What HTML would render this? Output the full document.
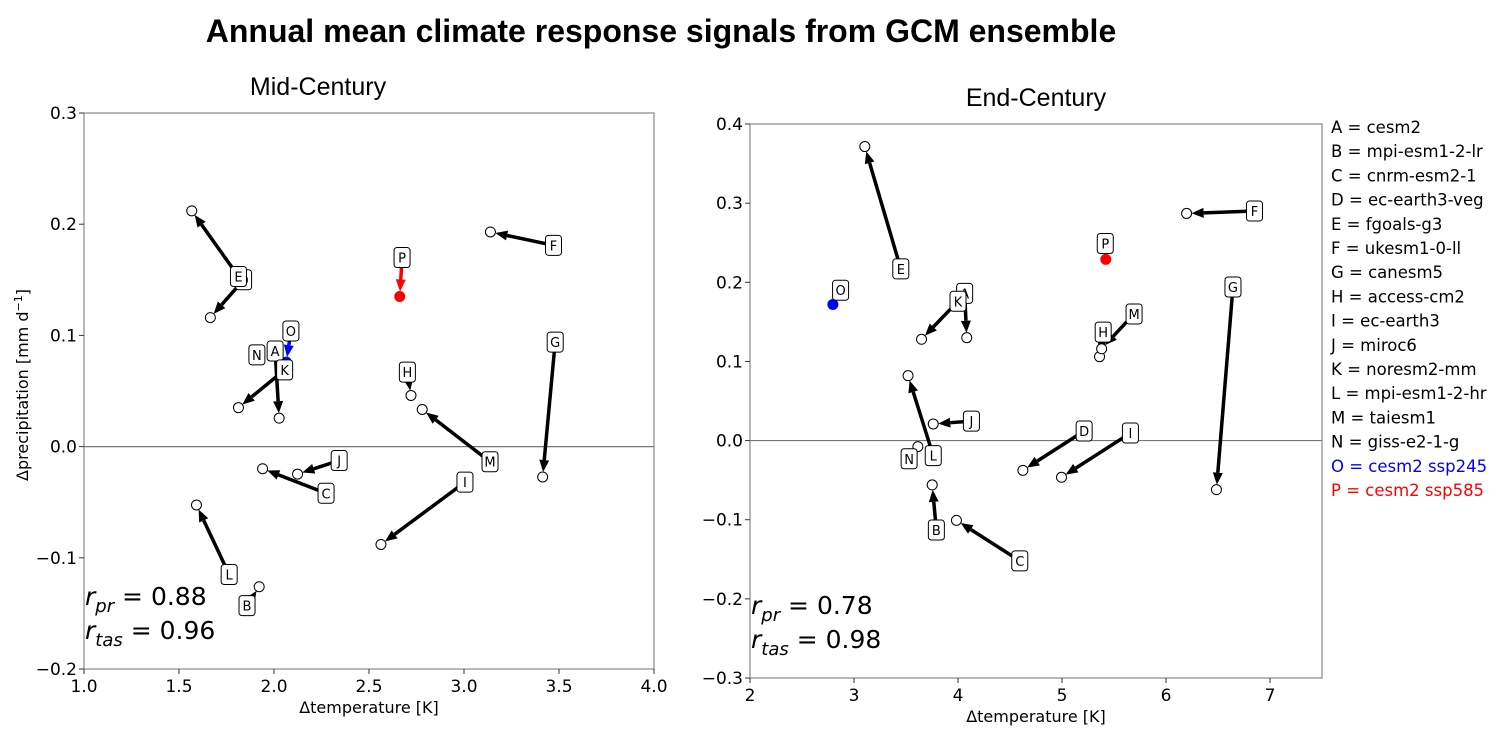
<!DOCTYPE html>
<html><head><meta charset="utf-8">
<style>
body{margin:0;background:#fff;width:1506px;height:735px;overflow:hidden;font-family:"DejaVu Sans","Liberation Sans",sans-serif;}
svg text{font-family:"DejaVu Sans","Liberation Sans",sans-serif;}
</style></head>
<body>
<svg id="chart" width="1506" height="735" xmlns="http://www.w3.org/2000/svg">
<text x="661" y="42" text-anchor="middle" font-size="32" font-weight="bold" style="font-family:'Liberation Sans',sans-serif">Annual mean climate response signals from GCM ensemble</text>
</svg>
<script>
const models = ["A","B","C","D","E","F","G","H","I","J","K","L","M","N","O","P"];
// Mid-century: label (start) and end positions
const midStartX = [2.006,1.858,2.274,1.84,1.813,3.471,3.480,2.702,3.005,2.343,2.056,1.764,3.137,1.910,2.089,2.674];
const midStartY = [0.086,-0.143,-0.042,0.150,0.153,0.181,0.094,0.067,-0.032,-0.0125,0.069,-0.115,-0.0136,0.0825,0.104,0.170];
const midEndX = [2.027,1.922,1.940,1.665,1.567,3.139,3.414,2.721,2.563,2.124,1.813,1.592,2.780,1.910,2.065,2.662];
const midEndY = [0.0256,-0.126,-0.0199,0.116,0.212,0.193,-0.0273,0.046,-0.088,-0.0247,0.035,-0.0525,0.0334,0.0825,0.076,0.135];
// End-century
const endStartX = [4.064,3.792,4.594,5.213,3.450,6.851,6.644,5.396,5.658,4.129,4.000,3.762,5.693,3.530,2.871,5.416];
const endStartY = [0.186,-0.113,-0.152,0.0121,0.217,0.290,0.194,0.137,0.0095,0.0246,0.176,-0.019,0.160,-0.023,0.190,0.249];
const endEndX = [4.084,3.752,3.985,4.624,3.104,6.198,6.485,5.361,4.995,3.762,3.649,3.520,5.381,3.614,2.797,5.421];
const endEndY = [0.130,-0.056,-0.1008,-0.0376,0.3715,0.287,-0.062,0.106,-0.0464,0.021,0.128,0.082,0.116,-0.0076,0.172,0.229];
const midXTicks = [1.0,1.5,2.0,2.5,3.0,3.5,4.0];
const midYTicks = [-0.2,-0.1,0.0,0.1,0.2,0.3];
const endXTicks = [2,3,4,5,6,7];
const endYTicks = [-0.3,-0.2,-0.1,0.0,0.1,0.2,0.3,0.4];
const legendNames = ["cesm2","mpi-esm1-2-lr","cnrm-esm2-1","ec-earth3-veg","fgoals-g3","ukesm1-0-ll","canesm5","access-cm2","ec-earth3","miroc6","noresm2-mm","mpi-esm1-2-hr","taiesm1","giss-e2-1-g","cesm2 ssp245","cesm2 ssp585"];
const midR = ["0.88","0.96"], endR = ["0.78","0.98"];

const NS="http://www.w3.org/2000/svg";
const svg=document.getElementById('chart');
function mk(tag,attrs,parent){const e=document.createElementNS(NS,tag);for(const k in attrs)e.setAttribute(k,attrs[k]);(parent||svg).appendChild(e);return e;}

function panel(cfg){
  const g=mk('g',{});
  
  
  const sx=v=>cfg.x0+(v-cfg.xmin)/(cfg.xmax-cfg.xmin)*(cfg.x1-cfg.x0);
  const sy=v=>cfg.y1-(v-cfg.ymin)/(cfg.ymax-cfg.ymin)*(cfg.y1-cfg.y0);
  const t=mk('text',{x:cfg.titleX,y:cfg.y0-18,'text-anchor':'middle','font-size':25,style:"font-family:'Liberation Sans',sans-serif"},g);
  t.textContent=cfg.title;
  
  
  const zl=mk('line',{x1:cfg.x0,x2:cfg.x1,y1:sy(0),y2:sy(0),stroke:'#777','stroke-width':1.2},g);
  
  
  const fr=mk('rect',{x:cfg.x0,y:cfg.y0,width:cfg.x1-cfg.x0,height:cfg.y1-cfg.y0,fill:'none',stroke:'#888','stroke-width':1.2},g);
  
  
  cfg.xt.forEach(v=>{
    mk('line',{x1:sx(v),x2:sx(v),y1:cfg.y1,y2:cfg.y1+5,stroke:'#333'},g);
    const tt=mk('text',{x:sx(v),y:cfg.y1+23,'text-anchor':'middle','font-size':17},g);
    tt.textContent=cfg.xfmt(v);
    
    
  });
  cfg.yt.forEach(v=>{
    mk('line',{x1:cfg.x0-5,x2:cfg.x0,y1:sy(v),y2:sy(v),stroke:'#333'},g);
    const tt=mk('text',{x:cfg.x0-7,y:sy(v)+6,'text-anchor':'end','font-size':17},g);
    tt.textContent=(v<0?'\u2212':'')+Math.abs(v).toFixed(1);
    
    
  });
  const xl=mk('text',{x:(cfg.x0+cfg.x1)/2,y:cfg.y1+44,'text-anchor':'middle','font-size':16},g);
  xl.textContent='\u0394temperature [K]';
  
  
  if(cfg.ylabel){
    const yl=mk('text',{transform:`translate(${cfg.x0-56},${(cfg.y0+cfg.y1)/2-6}) rotate(-90)`,'text-anchor':'middle','font-size':16},g);
    yl.innerHTML='\u0394precipitation [mm d<tspan dy="-6" font-size="11">\u22121</tspan><tspan dy="6">]</tspan>';
    
    
  }
  models.forEach((m,i)=>{
    const col=m==='O'?'#00f':(m==='P'?'#f00':'#000');
    const ax=sx(cfg.sx[i]),ay=sy(cfg.sy[i]),bx=sx(cfg.ex[i]),by=sy(cfg.ey[i]);
    const dx=bx-ax,dy=by-ay,L=Math.hypot(dx,dy);
    if(L>3){
      const ux=dx/L,uy=dy/L,hl=Math.min(12,L*0.5),hw=5;
      const tx=bx-ux*5,ty=by-uy*5;
      const bx2=tx-ux*hl,by2=ty-uy*hl;
      const ln=mk('line',{x1:ax,y1:ay,x2:bx2,y2:by2,stroke:col,'stroke-width':3.5},g);
      
      
      const hd=mk('polygon',{points:`${tx},${ty} ${bx2-uy*hw},${by2+ux*hw} ${bx2+uy*hw},${by2-ux*hw}`,fill:col},g);
      
      
    }
    const filled=(m==='O'||m==='P');
    const c=mk('circle',{cx:bx,cy:by,r:5,fill:filled?col:'#fff',stroke:filled?col:'#000','stroke-width':1},g);
    
    
  });
  models.forEach((m,i)=>{
    const ax=sx(cfg.sx[i]),ay=sy(cfg.sy[i]);
    const r=mk('rect',{x:ax-8,y:ay-10,width:16,height:20,rx:3,fill:'#fff',stroke:'#000','stroke-width':1},g);
    
    
    const tx=mk('text',{x:ax,y:ay+5,'text-anchor':'middle','font-size':13},g);
    tx.textContent=m;
    
    
  });
  const r1=mk('text',{x:cfg.x0+1,y:cfg.rY,'font-size':25},g);
  r1.innerHTML=`<tspan font-style="italic">r</tspan><tspan font-style="italic" font-size="18" dy="7">pr</tspan><tspan dy="-7"> = ${cfg.r[0]}</tspan>`;
  
  
  const r2=mk('text',{x:cfg.x0+1,y:cfg.rY+34,'font-size':25},g);
  r2.innerHTML=`<tspan font-style="italic">r</tspan><tspan font-style="italic" font-size="18" dy="7">tas</tspan><tspan dy="-7"> = ${cfg.r[1]}</tspan>`;
  
  
}
panel({name:'mid-century-panel',title:'Mid-Century',titleX:318,x0:84,x1:654,y0:113,y1:669,xmin:1,xmax:4,ymin:-0.2,ymax:0.3,
  xt:midXTicks,yt:midYTicks,xfmt:v=>v.toFixed(1),ylabel:true,sx:midStartX,sy:midStartY,ex:midEndX,ey:midEndY,r:midR,rY:605});
panel({name:'end-century-panel',title:'End-Century',titleX:1036,x0:750,x1:1322,y0:124,y1:678,xmin:2,xmax:7.5,ymin:-0.3,ymax:0.4,
  xt:endXTicks,yt:endYTicks,xfmt:v=>String(v),ylabel:false,sx:endStartX,sy:endStartY,ex:endEndX,ey:endEndY,r:endR,rY:614});
legendNames.forEach((n,i)=>{
  const col=i===14?'#00f':(i===15?'#f00':'#000');
  const t=mk('text',{x:1331,y:133+i*24.2,'font-size':16.5,fill:col});
  t.textContent=models[i]+' = '+n;
  
  
});
</script>
</body></html>
